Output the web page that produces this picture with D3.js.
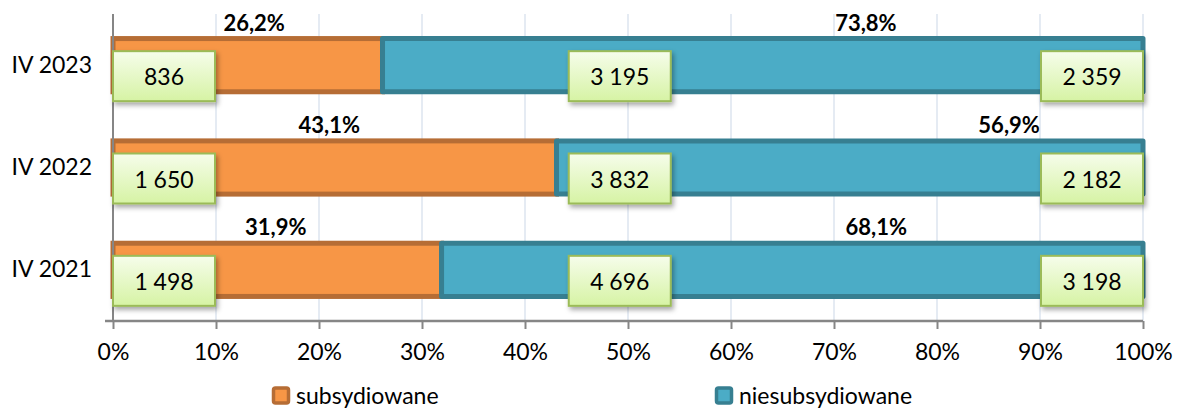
<!DOCTYPE html>
<html>
<head>
<meta charset="utf-8">
<script src="https://cdn.jsdelivr.net/npm/d3@7"></script>
<style>
  body { margin: 0; background: #fff; }
  svg { display: block; font-family: Lato, "Open Sans", sans-serif; }
</style>
</head>
<body>
<div id="container"></div>
<script>
// data
const categories = ["IV 2023", "IV 2022", "IV 2021"];
const subsidized = [836, 1650, 1498];
const unsubsidized = [2359, 2182, 3198];
const seriesNames = ["subsydiowane", "niesubsydiowane"];
const xTicks = [0, 10, 20, 30, 40, 50, 60, 70, 80, 90, 100];

// layout (in axis units where possible)
const orangeLabelAt = [13.7, 21.0, 15.8];
const blueLabelAt = [73.1, 87.0, 74.1];
const middleBoxAt = 49.2;

const W = 1181, H = 409;
const plot = { left: 113, right: 1143, top: 14, bottom: 321 };

const pl = d3.formatLocale({ decimal: ",", thousands: "\u00a0", grouping: [3], currency: ["", ""] });
const fmtNum = pl.format(",d");
const fmtPct = pl.format(".1f");

const rows = categories.map((c, i) => {
  const total = subsidized[i] + unsubsidized[i];
  return {
    cat: c, sub: subsidized[i], unsub: unsubsidized[i], total,
    pSub: subsidized[i] / total * 100,
    pUnsub: unsubsidized[i] / total * 100,
    orangeAt: orangeLabelAt[i],
    blueAt: blueLabelAt[i]
  };
});

const svg = d3.select("#container").append("svg")
  .attr("width", W).attr("height", H);

const defs = svg.append("defs");
const grad = defs.append("linearGradient").attr("id", "boxGrad")
  .attr("x1", 0).attr("y1", 0).attr("x2", 0).attr("y2", 1);
grad.append("stop").attr("offset", "0%").attr("stop-color", "#f6fdeb");
grad.append("stop").attr("offset", "100%").attr("stop-color", "#d6f3a4");
defs.append("filter").attr("id", "shadow")
  .attr("x", "-20%").attr("y", "-20%").attr("width", "140%").attr("height", "150%")
  .append("feDropShadow")
  .attr("dx", 2).attr("dy", 3).attr("stdDeviation", 2.5)
  .attr("flood-color", "#000").attr("flood-opacity", 0.35);

const x = d3.scaleLinear().domain([0, 100]).range([plot.left, plot.right]);
const y = d3.scaleBand().domain(categories).range([plot.top, plot.bottom])
  .paddingInner(0.48).paddingOuter(0.24);

// gridlines
svg.append("g").selectAll("line")
  .data(xTicks.slice(1))
  .join("line")
  .attr("x1", d => x(d)).attr("x2", d => x(d))
  .attr("y1", plot.top).attr("y2", plot.bottom)
  .attr("stroke", "#dde4ef").attr("stroke-width", 1.5);

// bars
const bars = svg.append("g");
bars.selectAll("rect.sub")
  .data(rows)
  .join("rect")
  .attr("class", "sub")
  .attr("x", x(0))
  .attr("y", d => y(d.cat))
  .attr("width", d => x(d.pSub) - x(0))
  .attr("height", y.bandwidth())
  .attr("fill", "#f79646")
  .attr("stroke", "#b66d35")
  .attr("stroke-width", 5);

bars.selectAll("rect.unsub")
  .data(rows)
  .join("rect")
  .attr("class", "unsub")
  .attr("x", d => x(d.pSub))
  .attr("y", d => y(d.cat))
  .attr("width", d => x(100) - x(d.pSub))
  .attr("height", y.bandwidth())
  .attr("fill", "#4bacc6")
  .attr("stroke", "#377f91")
  .attr("stroke-width", 5)
  .attr("stroke-linejoin", "round");

// axes
const axisColor = "#868686";
const xAxis = svg.append("g")
  .attr("transform", `translate(0,${plot.bottom})`)
  .call(d3.axisBottom(x).tickValues(xTicks).tickSize(8).tickPadding(15).tickFormat(d => d + "%"));
xAxis.select(".domain").remove();
xAxis.selectAll(".tick line").attr("stroke", axisColor).attr("stroke-width", 2);
xAxis.selectAll(".tick text")
  .attr("fill", "#000").attr("font-size", 23).attr("font-family", "Lato, sans-serif");
svg.append("line")
  .attr("x1", plot.left - 8).attr("x2", plot.right)
  .attr("y1", plot.bottom).attr("y2", plot.bottom)
  .attr("stroke", axisColor).attr("stroke-width", 2.5);

const yAxis = svg.append("g")
  .attr("transform", `translate(${plot.left},0)`)
  .call(d3.axisLeft(y).tickSize(0).tickPadding(21));
yAxis.select(".domain").remove();
yAxis.selectAll(".tick text")
  .attr("fill", "#000").attr("font-size", 23).attr("font-family", "Lato, sans-serif");
svg.append("line")
  .attr("x1", plot.left).attr("x2", plot.left)
  .attr("y1", plot.top).attr("y2", plot.bottom)
  .attr("stroke", axisColor).attr("stroke-width", 2);

// percent labels
const pctLabels = svg.append("g")
  .attr("font-size", 22).attr("font-weight", "bold").attr("text-anchor", "middle");
pctLabels.selectAll("text.ps")
  .data(rows)
  .join("text")
  .attr("x", d => x(d.orangeAt))
  .attr("y", d => y(d.cat) - 8)
  .text(d => fmtPct(d.pSub) + "%");
pctLabels.selectAll("text.pu")
  .data(rows)
  .join("text")
  .attr("x", d => x(d.blueAt))
  .attr("y", d => y(d.cat) - 8)
  .text(d => fmtPct(d.pUnsub) + "%");

// value boxes
const boxW = x(10) - x(0) - 1, boxH = 50;
const boxes = [];
rows.forEach(d => {
  const cy = y(d.cat) + y.bandwidth() / 2 + 11;
  boxes.push({ left: x(0), cy, v: d.sub });
  boxes.push({ left: x(middleBoxAt) - boxW / 2, cy, v: d.total });
  boxes.push({ left: x(100) - boxW, cy, v: d.unsub });
});
const bg = svg.append("g").selectAll("g")
  .data(boxes)
  .join("g")
  .attr("transform", d => `translate(${d.left},${d.cy - boxH / 2})`);
bg.append("rect")
  .attr("width", boxW).attr("height", boxH)
  .attr("fill", "url(#boxGrad)")
  .attr("stroke", "#9bbb59").attr("stroke-width", 2)
  .attr("filter", "url(#shadow)");
bg.append("text")
  .attr("x", boxW / 2).attr("y", boxH / 2)
  .attr("text-anchor", "middle").attr("dominant-baseline", "central")
  .attr("font-size", 23)
  .text(d => fmtNum(d.v));

// legend
const legendX = [272, 715];
const legendFill = ["#f79646", "#4bacc6"];
const legendStroke = ["#b66d35", "#377f91"];
const lg = svg.append("g").selectAll("g")
  .data(seriesNames)
  .join("g")
  .attr("transform", (d, i) => `translate(${legendX[i]},395)`);
lg.append("rect")
  .attr("x", 1.5).attr("y", -7).attr("width", 15).attr("height", 15).attr("rx", 2)
  .attr("fill", (d, i) => legendFill[i])
  .attr("stroke", (d, i) => legendStroke[i]).attr("stroke-width", 3.5);
lg.append("text")
  .attr("x", 24).attr("y", 0)
  .attr("dominant-baseline", "central")
  .attr("font-size", 23)
  .text(d => d);
</script>
</body>
</html>
